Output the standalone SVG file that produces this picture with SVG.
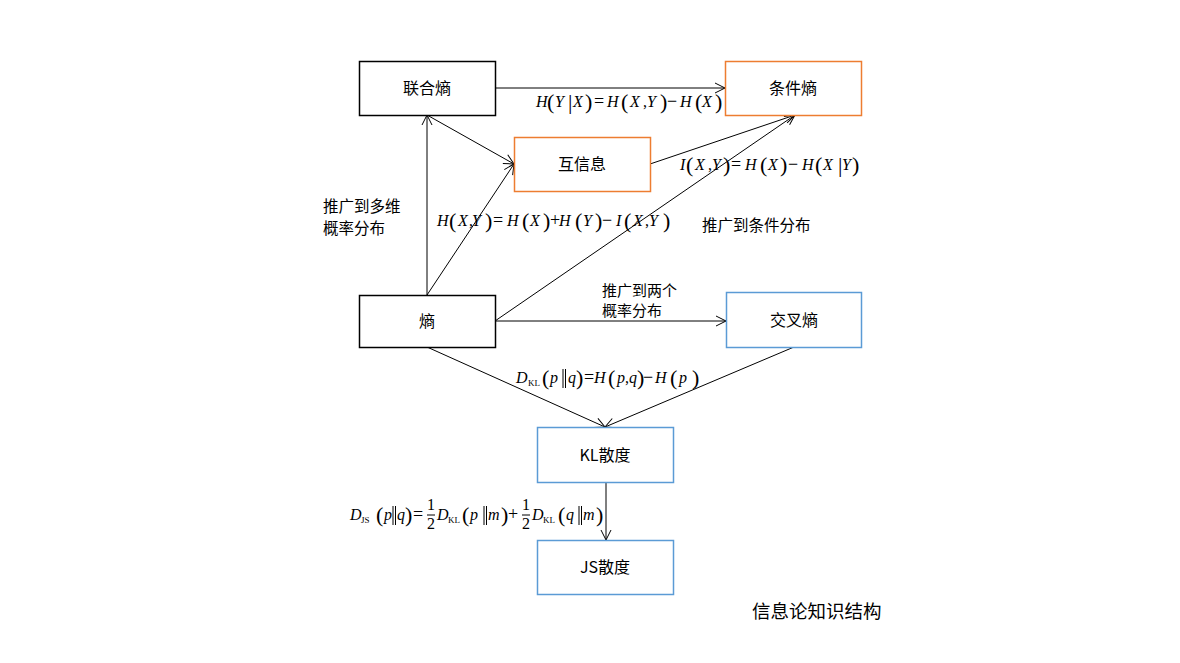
<svg xmlns="http://www.w3.org/2000/svg" width="1180" height="663" viewBox="0 0 1180 663">
<style>
.box{fill:#fff;stroke-width:1.5}
.bk{stroke:#000}
.or{stroke:#ED7D31}
.bl{stroke:#5B9BD5}
.lbl{font-family:"Noto Sans CJK SC","Noto Sans",sans-serif;font-size:16px;fill:#000;text-anchor:middle}
.cn{font-family:"Noto Sans CJK SC","Noto Sans",sans-serif;font-size:15.5px;fill:#000}
.f{font-family:"Liberation Serif",serif;font-size:16px;font-style:italic;fill:#000}
.f line{stroke:#000;stroke-width:1}
.n{font-style:normal}
.o{font-style:normal;font-size:18px}
.p{font-style:normal;font-size:22px}
.s{font-style:normal;font-size:9px}
.c line,.c path{stroke:#000;stroke-width:1;fill:none}
</style>
<defs>
<marker id="a" viewBox="0 0 12 12" refX="11" refY="6" markerWidth="12" markerHeight="12" markerUnits="userSpaceOnUse" orient="auto">
<path d="M1,1 L11,6 L1,11" fill="none" stroke="#000" stroke-width="1"/>
</marker>
</defs>
<rect width="1180" height="663" fill="#fff"/>

<g id="connectors" class="c">
<line x1="495" y1="88" x2="725" y2="88" marker-end="url(#a)"/>
<line x1="427" y1="295" x2="427" y2="115" marker-end="url(#a)"/>
<line x1="427" y1="115" x2="514" y2="164" marker-end="url(#a)"/>
<line x1="427" y1="295" x2="514" y2="164" marker-end="url(#a)"/>
<line x1="650" y1="164" x2="795" y2="115" marker-end="url(#a)"/>
<line x1="495" y1="321" x2="795" y2="115" marker-end="url(#a)"/>
<line x1="495" y1="321" x2="726" y2="321" marker-end="url(#a)"/>
<line x1="427" y1="347" x2="605" y2="427" marker-end="url(#a)"/>
<line x1="794" y1="347" x2="605" y2="427" marker-end="url(#a)"/>
<line x1="606" y1="467" x2="606" y2="540" marker-end="url(#a)"/>
</g>

<g id="joint-entropy"><rect class="box bk" x="359.5" y="61.5" width="136" height="54"/><text class="lbl" x="427" y="94">联合熵</text></g>
<g id="conditional-entropy"><rect class="box or" x="725.5" y="61.5" width="136" height="54"/><text class="lbl" x="793" y="94">条件熵</text></g>
<g id="mutual-info"><rect class="box or" x="514.5" y="137.5" width="136" height="54"/><text class="lbl" x="582" y="170">互信息</text></g>
<g id="entropy"><rect class="box bk" x="359.5" y="295.5" width="136" height="52"/><text class="lbl" x="427" y="327">熵</text></g>
<g id="cross-entropy"><rect class="box bl" x="726.5" y="292.5" width="135" height="55"/><text class="lbl" x="794" y="326">交叉熵</text></g>
<g id="kl"><rect class="box bl" x="537.5" y="427.5" width="136" height="55"/><text class="lbl" x="605" y="461">KL散度</text></g>
<g id="js"><rect class="box bl" x="537.5" y="540.5" width="136" height="54"/><text class="lbl" x="605" y="573">JS散度</text></g>

<g id="labels">
<text class="cn" x="323" y="212">推广到多维</text>
<text class="cn" x="323" y="234">概率分布</text>
<text class="cn" x="702" y="231">推广到条件分布</text>
<text class="cn" x="602" y="296" style="font-size:15px">推广到两个</text>
<text class="cn" x="602" y="316" style="font-size:15px">概率分布</text>
<text x="752" y="618" style="font-family:'Noto Sans CJK SC','Noto Sans',sans-serif;font-size:18.5px;fill:#000">信息论知识结构</text>
</g>

<g id="formula1" class="f">
<text x="536" y="107">H</text><text class="p" x="547" y="109">(</text><text x="555" y="107">Y</text><text class="p" x="568" y="109">|</text><text x="573" y="107">X</text><text class="p" x="585" y="109">)</text>
<text class="o" x="594" y="107">=</text><text x="607" y="107">H</text><text class="p" x="621" y="109">(</text><text x="630" y="107">X</text><text class="n" x="643" y="107">,</text><text x="647" y="107">Y</text><text class="p" x="660" y="109">)</text>
<text class="o" x="667" y="107">−</text><text x="680" y="107">H</text><text class="p" x="695" y="109">(</text><text x="702" y="107">X</text><text class="p" x="715" y="109">)</text>
</g>

<g id="formula2" class="f">
<text x="680" y="170">I</text><text class="p" x="686" y="172">(</text><text x="695" y="170">X</text><text class="n" x="708" y="170">,</text><text x="712" y="170">Y</text><text class="p" x="723" y="172">)</text>
<text class="o" x="731" y="170">=</text><text x="745" y="170">H</text><text class="p" x="760" y="172">(</text><text x="768" y="170">X</text><text class="p" x="780" y="172">)</text>
<text class="o" x="788" y="170">−</text><text x="802" y="170">H</text><text class="p" x="815" y="172">(</text><text x="823" y="170">X</text><text class="p" x="838" y="172">|</text><text x="842" y="170">Y</text><text class="p" x="852" y="172">)</text>
</g>

<g id="formula3" class="f">
<text x="437" y="226">H</text><text class="p" x="449" y="228">(</text><text x="458" y="226">X</text><text class="n" x="469" y="226">,</text><text x="472" y="226">Y</text><text class="p" x="485" y="228">)</text>
<text class="o" x="493" y="226">=</text><text x="507" y="226">H</text><text class="p" x="522" y="228">(</text><text x="530" y="226">X</text><text class="p" x="543" y="228">)</text>
<text class="o" x="550" y="226">+</text><text x="559" y="226">H</text><text class="p" x="575" y="228">(</text><text x="583" y="226">Y</text><text class="p" x="595" y="228">)</text>
<text class="o" x="602" y="226">−</text><text x="616" y="226">I</text><text class="p" x="624" y="228">(</text><text x="633" y="226">X</text><text class="n" x="645" y="226">,</text><text x="649" y="226">Y</text><text class="p" x="663" y="228">)</text>
</g>

<g id="formula4" class="f">
<text x="516" y="383">D</text><text class="s" x="528" y="386">KL</text><text class="p" x="542" y="385">(</text><text x="550" y="383">p</text><line x1="563" y1="369" x2="563" y2="388"/><line x1="565.5" y1="369" x2="565.5" y2="388"/><text x="568" y="383">q</text><text class="p" x="576" y="385">)</text>
<text class="o" x="584" y="383">=</text><text x="594" y="383">H</text><text class="p" x="608" y="385">(</text><text x="617" y="383">p</text><text class="n" x="625" y="383">,</text><text x="629" y="383">q</text><text class="p" x="637" y="385">)</text>
<text class="o" x="643" y="383">−</text><text x="655" y="383">H</text><text class="p" x="670" y="385">(</text><text x="679" y="383">p</text><text class="p" x="692" y="385">)</text>
</g>

<g id="formula5" class="f">
<text x="350" y="520">D</text><text class="s" x="361" y="523">JS</text><text class="p" x="376" y="522">(</text><text x="384" y="520">p</text><line x1="393" y1="506" x2="393" y2="525"/><line x1="395.5" y1="506" x2="395.5" y2="525"/><text x="397" y="520">q</text><text class="p" x="405" y="522">)</text>
<text class="o" x="413" y="520">=</text>
<text class="n" x="427" y="510">1</text><line x1="427" y1="515" x2="435" y2="515"/><text class="n" x="427" y="529">2</text>
<text x="437" y="520">D</text><text class="s" x="448" y="523">KL</text><text class="p" x="462" y="522">(</text><text x="470" y="520">p</text><line x1="484" y1="506" x2="484" y2="525"/><line x1="486.5" y1="506" x2="486.5" y2="525"/><text x="488" y="520">m</text><text class="p" x="501" y="522">)</text>
<text class="o" x="508" y="520">+</text>
<text class="n" x="522" y="510">1</text><line x1="522" y1="515" x2="530" y2="515"/><text class="n" x="522" y="529">2</text>
<text x="532" y="520">D</text><text class="s" x="543" y="523">KL</text><text class="p" x="558" y="522">(</text><text x="566" y="520">q</text><line x1="579" y1="506" x2="579" y2="525"/><line x1="581.5" y1="506" x2="581.5" y2="525"/><text x="583" y="520">m</text><text class="p" x="596" y="522">)</text>
</g>
</svg>
